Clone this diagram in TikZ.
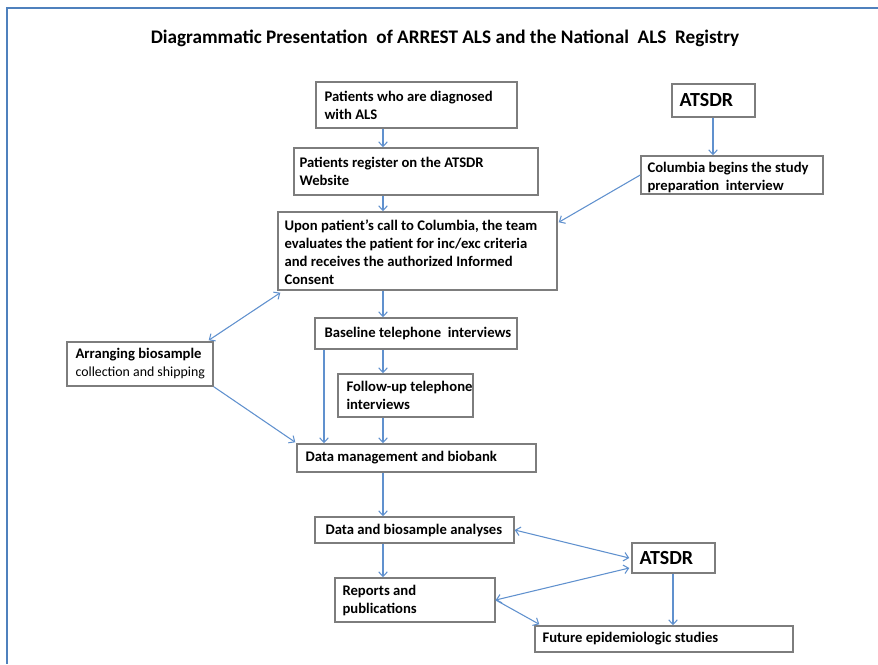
\documentclass[tikz,border=0pt]{standalone}
\usepackage{fontspec}
\setmainfont{Carlito}
\usetikzlibrary{arrows.meta,calc}
\definecolor{frameblue}{RGB}{79,129,189}
\definecolor{arrowblue}{RGB}{96,145,206}
\definecolor{boxgray}{RGB}{125,125,125}
\begin{document}
\begin{tikzpicture}[x=0.75pt,y=-0.75pt,
  bx/.style n args={2}{draw=boxgray, line width=1.1pt, minimum width=#1*0.75pt, minimum height=#2*0.75pt, inner sep=0pt},
  tx/.style={anchor=west, inner sep=0pt, align=left, font=\bfseries\fontsize{11}{13.5}\selectfont},
  big/.style={anchor=west, inner sep=0pt, font=\bfseries\fontsize{15}{17}\selectfont},
  arr/.style={draw=arrowblue, line width=0.8pt, -{Straight Barb[length=3.5pt,width=6.5pt]}},
  darr/.style={draw=arrowblue, line width=0.8pt, {Straight Barb[length=3.5pt,width=6.5pt]}-{Straight Barb[length=3.5pt,width=6.5pt]}}]
\useasboundingbox (0,0) rectangle (878,664);
% frame
\draw[frameblue, line width=2pt] (878,8) -- (7,8) -- (7,664);
% title
\node[font=\bfseries\fontsize{14.4}{17}\selectfont] (title) at (445,38) {Diagrammatic Presentation\ \ of ARREST ALS and the National\ \ ALS\ \ Registry};
% boxes
\node[bx={201}{46}] (b1) at (416.5,105) {};
\node[bx={244}{47}] (b2) at (416,171.5) {};
\node[bx={279}{78}] (b3) at (417.5,251) {};
\node[bx={83}{33}] (at1) at (713.5,100.5) {};
\node[bx={182}{38}] (col) at (732,175) {};
\node[bx={146}{44}] (arrg) at (140,364) {};
\node[bx={202}{31}] (base) at (416,333.5) {};
\node[bx={135}{43}] (fu) at (405.5,395.5) {};
\node[bx={239}{28}] (dm) at (416.5,458) {};
\node[bx={199}{26}] (an) at (414.5,530) {};
\node[bx={83}{30}] (at2) at (673.5,558) {};
\node[bx={160}{44}] (rep) at (415,600) {};
\node[bx={258}{26}] (fut) at (664,639) {};
% texts
\node[tx] (t1) at ($(b1.west)+(9,0)$) {Patients who are diagnosed\\with ALS};
\node[tx] (t2) at ($(b2.west)+(6,0)$) {Patients register on the ATSDR\\Website};
\node[tx] (t3) at ($(b3.west)+(7,1)$) {Upon patient’s call to Columbia, the team\\evaluates the patient for inc/exc criteria\\and receives the authorized Informed\\Consent};
\node[big] (ta1) at ($(at1.west)+(8,0)$) {ATSDR};
\node[tx] (tcol) at ($(col.west)+(7,3)$) {Columbia begins the study\\preparation\ \ interview};
\node[tx] (tarr) at ($(arrg.west)+(9,0)$) {Arranging biosample\\{\mdseries\fontsize{10.4}{13.5}\selectfont collection and shipping}};
\node[tx] (tbase) at ($(base.west)+(10,0)$) {Baseline telephone\ \ interviews};
\node[tx] (tfu) at ($(fu.west)+(9,0)$) {Follow-up telephone\\interviews};
\node[tx] (tdm) at ($(dm.west)+(9,0)$) {Data management and biobank};
\node[tx] (tan) at ($(an.west)+(11,0)$) {Data and biosample analyses};
\node[big] (ta2) at ($(at2.west)+(8,0)$) {ATSDR};
\node[tx] (trep) at ($(rep.west)+(8,0)$) {Reports and\\publications};
\node[tx] (tfut) at ($(fut.west)+(8,0)$) {Future epidemiologic studies};
% helper x positions
\coordinate (sp) at (383,0);
\coordinate (lx) at (324,0);
\coordinate (rx1) at (713,0);
\coordinate (rx2) at (673,0);
% connectors
\draw[arr] (b1.south -| sp) -- (b2.north -| sp);
\draw[arr] (b2.south -| sp) -- (b3.north -| sp);
\draw[arr] (b3.south -| sp) -- (base.north -| sp);
\draw[arr] (base.south -| sp) -- (fu.north -| sp);
\draw[arr] (fu.south -| sp) -- (dm.north -| sp);
\draw[arr] (base.south -| lx) -- (dm.north -| lx);
\draw[arr] (dm.south -| sp) -- (an.north -| sp);
\draw[arr] (an.south -| sp) -- (rep.north -| sp);
\draw[arr] (at1.south -| rx1) -- (col.north -| rx1);
\draw[arr] (col.west) -- ($(b3.north east)+(1,11)$);
\draw[darr] ($(arrg.north east)+(-5,-1)$) -- ($(b3.south west)+(3,2)$);
\draw[arr] (arrg.south east) -- ($(dm.north west)+(-1,-1)$);
\draw[darr] (an.east) -- ($(at2.west)+(-2,0)$);
\draw[darr] (rep.east) -- ($(at2.west)+(-2,10)$);
\draw[arr] (rep.east) -- ($(fut.north west)+(5,-1)$);
\draw[arr] (at2.south -| rx2) -- (fut.north -| rx2);
\end{tikzpicture}
\end{document}
